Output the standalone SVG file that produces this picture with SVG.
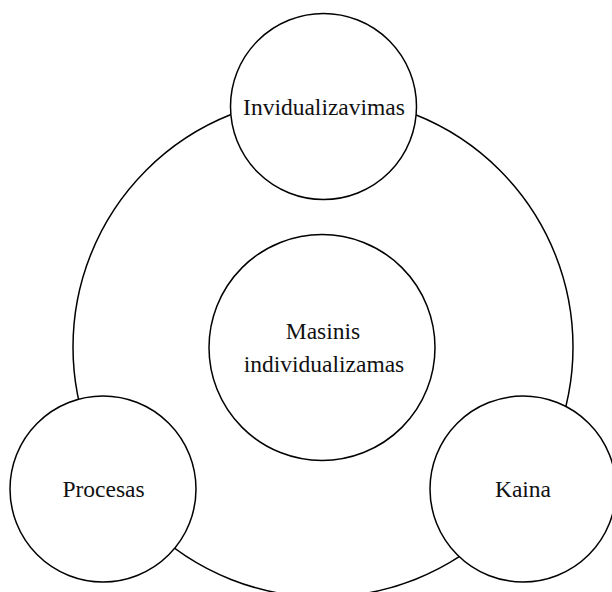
<svg xmlns="http://www.w3.org/2000/svg" width="612" height="592" viewBox="0 0 612 592">
<style>
.c{fill:#fff;stroke:#000;stroke-width:1.5}
.ring{fill:none;stroke:#000;stroke-width:1.5}
.t{font-family:"Liberation Serif","Times New Roman",serif;font-size:23.5px;fill:#111;text-anchor:middle}
</style>
<rect width="612" height="592" fill="#fff"/>
<g id="connectors">
<circle class="ring" cx="323" cy="347" r="250"/>
</g>
<g id="center">
<circle class="c" cx="322" cy="347.5" r="113"/>
<text class="t" x="323" y="339">Masinis</text>
<text class="t" x="324" y="372">individualizamas</text>
</g>
<g id="top">
<circle class="c" cx="323.5" cy="106.5" r="93"/>
<text class="t" x="324" y="115">Invidualizavimas</text>
</g>
<g id="left">
<circle class="c" cx="103" cy="489" r="93"/>
<text class="t" x="103.5" y="497">Procesas</text>
</g>
<g id="right">
<circle class="c" cx="523" cy="489" r="93"/>
<text class="t" x="523" y="497">Kaina</text>
</g>
</svg>
